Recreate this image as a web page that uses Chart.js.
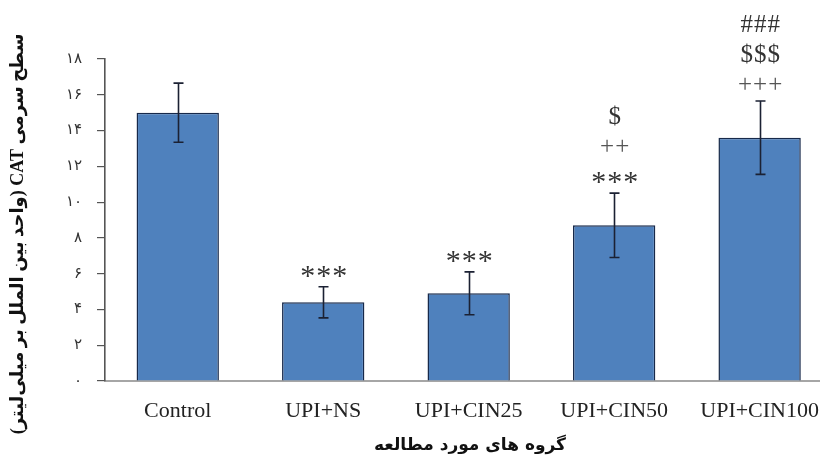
<!DOCTYPE html>
<html>
<head>
<meta charset="utf-8">
<script src="https://cdn.jsdelivr.net/npm/chart.js@4.4.1/dist/chart.umd.min.js"></script>
<style>
	html, body { margin: 0; padding: 0; background: #fff; overflow: hidden; }
	#wrap { position: relative; width: 836px; height: 461px; }
</style>
</head>
<body>
<div id="wrap"><canvas id="cat-chart"></canvas></div>
<script>
const groups = ["Control", "UPI+NS", "UPI+CIN25", "UPI+CIN50", "UPI+CIN100"];
const meanCAT = [15.0, 4.4, 4.9, 8.7, 13.6];
const errCAT = [1.65, 0.87, 1.2, 1.8, 2.05];
// significance marks, bottom to top
const marks = [[], ["***"], ["***"], ["***", "++", "$"], ["+++", "$$$", "###"]];
const yMin = 0;
const yMax = 18;
const yStep = 2;
const yTitle = "سطح سرمی CAT (واحد بین الملل بر میلی‌لیتر)";
const xTitle = "گروه های مورد مطالعه";

const faDigits = "۰۱۲۳۴۵۶۷۸۹";
const toFa = (v) => String(v).replace(/\d/g, (d) => faDigits[d]);

const extras = {
	id: "extras",
	afterDatasetsDraw(chart) {
		const { ctx, scales } = chart;
		const x = scales.x, y = scales.y;
		ctx.save();
		// error bars
		ctx.strokeStyle = "#1b2133";
		ctx.lineWidth = 1.6;
		meanCAT.forEach((m, i) => {
			const px = Math.round(x.getPixelForValue(i)) + 0.5;
			const top = y.getPixelForValue(m + errCAT[i]);
			const bot = y.getPixelForValue(m - errCAT[i]);
			ctx.beginPath();
			ctx.moveTo(px, top); ctx.lineTo(px, bot);
			ctx.moveTo(px - 5, top); ctx.lineTo(px + 5, top);
			ctx.moveTo(px - 5, bot); ctx.lineTo(px + 5, bot);
			ctx.stroke();
		});
		// significance marks
		ctx.textAlign = "center";
		ctx.textBaseline = "alphabetic";
		ctx.letterSpacing = "1px";
		marks.forEach((list, i) => {
			const px = x.getPixelForValue(i);
			const top = y.getPixelForValue(meanCAT[i] + errCAT[i]);
			list.forEach((s, k) => {
				const star = s.startsWith("*");
				ctx.font = (star ? "30px" : "25px") + " 'Liberation Serif'";
				ctx.fillStyle = s.startsWith("+") ? "#555" : "#333";
				ctx.fillText(s, px + 1, top - (star ? 2 : 9) - k * 30);
			});
		});
		ctx.letterSpacing = "0px";
		// axis titles
		ctx.direction = "rtl";
		ctx.fillStyle = "#111";
		ctx.textBaseline = "middle";
		ctx.textAlign = "center";
		ctx.font = "bold 18px 'Liberation Serif', 'DejaVu Sans'";
		ctx.save();
		ctx.translate(18, 234);
		ctx.rotate(-Math.PI / 2);
		ctx.fillText(yTitle, 0, 0);
		ctx.restore();
		ctx.font = "bold 17px 'DejaVu Sans'";
		ctx.fillText(xTitle, 470, 446);
		ctx.restore();
	},
};

new Chart(document.getElementById("cat-chart"), {
	type: "bar",
	data: {
		labels: groups,
		datasets: [
			{
				data: meanCAT,
				backgroundColor: "#4f81bd",
				borderColor: "#17294a",
				borderWidth: 1.5,
				categoryPercentage: 1,
				barPercentage: 0.566,
			},
		],
	},
	options: {
		responsive: true,
		maintainAspectRatio: false,
		animation: false,
		layout: { padding: { top: 59, left: 0, right: 0, bottom: 0 } },
		plugins: { legend: { display: false }, tooltip: { enabled: false } },
		scales: {
			x: {
				afterFit: (s) => { s.height = 80; },
				grid: { display: false, drawTicks: false },
				border: { color: "#a6a6a6", width: 2 },
				ticks: {
					color: "#222",
					padding: 17,
					maxRotation: 0,
					autoSkip: false,
					font: { family: "'Liberation Serif'", size: 22 },
				},
			},
			y: {
				min: yMin,
				max: yMax,
				afterFit: (s) => { s.width = 105; },
				grid: { drawOnChartArea: false, drawTicks: true, tickLength: 8, color: "#555", lineWidth: 1.2 },
				border: { color: "#555", width: 1.6 },
				ticks: {
					stepSize: yStep,
					color: "#333",
					padding: 15,
					font: { family: "'DejaVu Sans'", size: 15 },
					callback: (v) => toFa(v),
				},
			},
		},
	},
	plugins: [extras],
});
</script>
</body>
</html>
